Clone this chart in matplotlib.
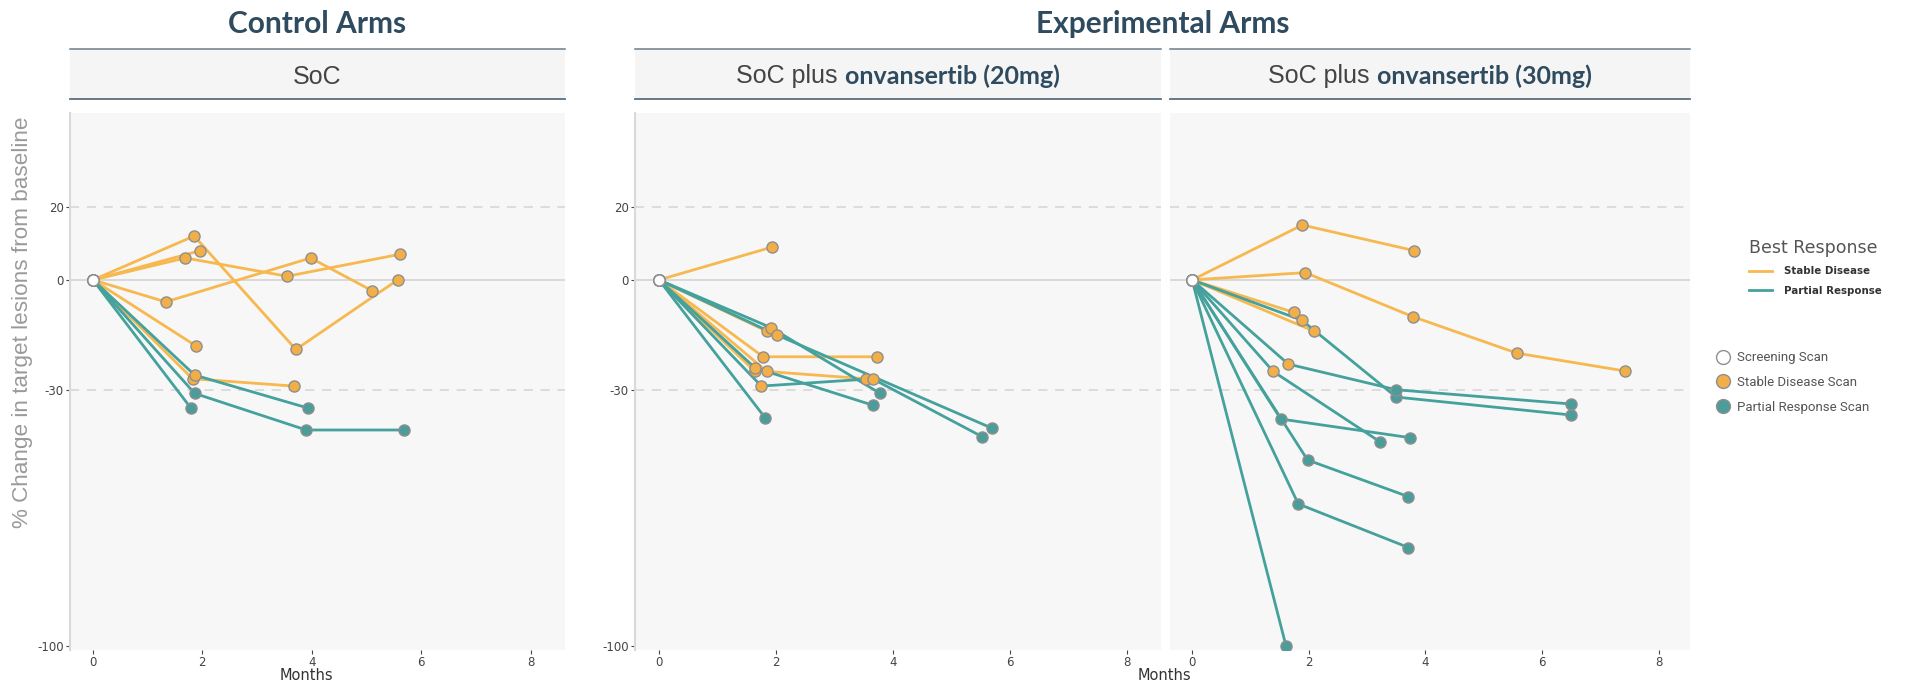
import matplotlib.pyplot as plt
from matplotlib.lines import Line2D

plt.rcParams["axes.unicode_minus"] = False

# ---- data (months, % change, scan type per point) ----
soc_months = [[0, 1.85, 3.71, 5.57], [0, 1.69, 3.55, 5.61], [0, 1.33, 3.98, 5.11],
              [0, 1.96], [0, 1.88], [0, 1.82, 3.67],
              [0, 1.86, 3.93], [0, 1.86, 3.90, 5.68], [0, 1.79]]
soc_change = [[0, 12, -19, 0], [0, 6, 1, 7], [0, -6, 6, -3],
              [0, 8], [0, -18], [0, -27, -29],
              [0, -26, -35], [0, -31, -41, -41], [0, -35]]
soc_scans = [["S", "SD", "SD", "SD"], ["S", "SD", "SD", "SD"], ["S", "SD", "SD", "SD"],
             ["S", "SD"], ["S", "SD"], ["S", "SD", "SD"],
             ["S", "SD", "PR"], ["S", "PR", "PR", "PR"], ["S", "PR"]]
soc_best = ["SD", "SD", "SD", "SD", "SD", "SD", "PR", "PR", "PR"]

mg20_months = [[0, 1.94], [0, 1.84], [0, 1.78, 3.73], [0, 1.84, 3.53], [0, 1.64],
               [0, 1.91, 3.78], [0, 2.01, 5.69], [0, 1.75, 3.65, 5.52], [0, 1.64, 3.65], [0, 1.82]]
mg20_change = [[0, 9], [0, -14], [0, -21, -21], [0, -25, -27], [0, -25],
               [0, -13, -31], [0, -15, -40.5], [0, -29, -27, -42.8], [0, -24, -34.2], [0, -37.8]]
mg20_scans = [["S", "SD"], ["S", "SD"], ["S", "SD", "SD"], ["S", "SD", "SD"], ["S", "SD"],
              ["S", "SD", "PR"], ["S", "SD", "PR"], ["S", "SD", "SD", "PR"], ["S", "SD", "PR"], ["S", "PR"]]
mg20_best = ["SD", "SD", "SD", "SD", "SD", "PR", "PR", "PR", "PR", "PR"]

mg30_months = [[0, 1.89, 3.81], [0, 1.94, 3.78, 5.57, 7.43], [0, 1.75], [0, 2.09],
               [0, 1.88, 3.50, 6.50], [0, 1.65, 3.50, 6.50], [0, 1.39, 3.22], [0, 1.52, 3.74],
               [0, 1.98, 3.71], [0, 1.82, 3.71], [0, 1.61]]
mg30_change = [[0, 15, 8], [0, 2, -10, -20, -24.9], [0, -8.9], [0, -14],
               [0, -11, -32, -36.9], [0, -23, -30, -33.9], [0, -25, -44.2], [0, -38, -43.1],
               [0, -49.2, -59.2], [0, -61.2, -73.1], [0, -100]]
mg30_scans = [["S", "SD", "SD"], ["S", "SD", "SD", "SD", "SD"], ["S", "SD"], ["S", "SD"],
              ["S", "SD", "PR", "PR"], ["S", "SD", "PR", "PR"], ["S", "SD", "PR"], ["S", "PR", "PR"],
              ["S", "PR", "PR"], ["S", "PR", "PR"], ["S", "PR"]]
mg30_best = ["SD", "SD", "SD", "SD", "PR", "PR", "PR", "PR", "PR", "PR", "PR"]

line_col = {"SD": "#f6b84f", "PR": "#44a19c"}
dot_col = {"S": "white", "SD": "#f2ae47", "PR": "#4a9d98"}
title_col = "#2f4b5f"

W, H = 1910, 686


def box(l, t, r, b):
    return [l / W, 1 - b / H, (r - l) / W, (b - t) / H]


fig = plt.figure(figsize=(W / 100, H / 100), dpi=100)

ax1 = fig.add_axes(box(70, 113, 565, 650))
ax2 = fig.add_axes(box(635, 113, 1161, 650))
ax3 = fig.add_axes(box(1170, 113, 1690, 650))
panels = [
    (ax1, soc_months, soc_change, soc_scans, soc_best, (-0.42, 8.63)),
    (ax2, mg20_months, mg20_change, mg20_scans, mg20_best, (-0.41, 8.58)),
    (ax3, mg30_months, mg30_change, mg30_scans, mg30_best, (-0.38, 8.54)),
]

for ax, months, change, scans, best, xl in panels:
    ax.set_facecolor("#f7f7f7")
    ax.axhline(0, color="#d6d6d6", lw=1.3, zorder=1)
    for yy in (20, -30):
        ax.axhline(yy, color="#d4d4d4", lw=1.1, ls=(0, (6, 5)), zorder=1)
    for xs, ys, b in zip(months, change, best):
        ax.plot(xs, ys, color=line_col[b], lw=2.0, zorder=2, solid_capstyle="round")
    for xs, ys, sc in zip(months, change, scans):
        for x, y, s in zip(xs, ys, sc):
            ax.plot(x, y, "o", ms=8, mfc=dot_col[s], mec="#8f8f8f", mew=1.0, zorder=3)
    ax.set_xlim(*xl)
    ax.set_ylim(-101.1, 45.6)
    ax.set_xticks([0, 2, 4, 6, 8])
    ax.set_yticks([20, 0, -30, -100])
    ax.tick_params(labelsize=8.5, colors="#444444", length=3, width=0.8, pad=1.5)
    for s in ("top", "right", "bottom"):
        ax.spines[s].set_visible(False)
    ax.spines["left"].set_color("#d9d9d9")
    ax.spines["left"].set_linewidth(1.5)

ax3.tick_params(axis="y", left=False, labelleft=False)
ax3.spines["left"].set_visible(False)

# facet strips
strips = []
for l, r in ((70, 565), (635, 1161), (1170, 1690)):
    s = fig.add_axes(box(l, 49, r, 99))
    s.set_facecolor("#f5f5f5")
    s.set_xticks([])
    s.set_yticks([])
    for k in ("left", "right"):
        s.spines[k].set_visible(False)
    s.spines["top"].set_color("#6b7e8c")
    s.spines["bottom"].set_color("#5a6e7e")
    s.spines["top"].set_linewidth(1.1)
    s.spines["bottom"].set_linewidth(1.3)
    strips.append(s)

strips[0].text(0.5, 0.45, "SoC", ha="center", va="center", fontsize=18,
               family="Liberation Sans", color="#444444")

renderer = fig.canvas.get_renderer()
for s, dose in ((strips[1], "onvansertib (20mg)"), (strips[2], "onvansertib (30mg)")):
    t1 = s.text(0.5, 0.45, "SoC plus", ha="left", va="center", fontsize=18,
                family="Liberation Sans", color="#444444")
    t2 = s.text(0.5, 0.45, dose, ha="left", va="center", fontsize=18,
                family="Lato", weight="bold", color=title_col)
    w1 = t1.get_window_extent(renderer).width
    w2 = t2.get_window_extent(renderer).width
    gap = 7
    aw = s.bbox.width
    x0 = 0.5 - (w1 + gap + w2) / 2 / aw
    t1.set_x(x0)
    t2.set_x(x0 + (w1 + gap) / aw)

fig.text(317 / W, 1 - 24 / H, "Control Arms", ha="center", va="center",
         fontsize=21.5, family="Lato", weight="bold", color=title_col)
fig.text(1163 / W, 1 - 24 / H, "Experimental Arms", ha="center", va="center",
         fontsize=21.5, family="Lato", weight="bold", color=title_col)

fig.text(23 / W, 1 - 322 / H, "% Change in target lesions from baseline", rotation=90,
         ha="center", va="center", fontsize=16.2, family="Liberation Sans", color="#9a9a9a")
fig.text(306 / W, 1 - 676 / H, "Months", ha="center", va="center", fontsize=10.5, color="#333333")
fig.text(1164 / W, 1 - 676 / H, "Months", ha="center", va="center", fontsize=10.5, color="#333333")

# legends
best_handles = [Line2D([], [], color=line_col["SD"], lw=2),
                Line2D([], [], color=line_col["PR"], lw=2)]
leg1 = fig.legend(best_handles, ["Stable Disease", "Partial Response"],
                  loc="upper left", bbox_to_anchor=(1742 / W, 1 - 232 / H),
                  frameon=False, title="Best Response", title_fontsize=12.5,
                  alignment="left", prop={"size": 7.4, "weight": "bold"},
                  handlelength=2.2, handletextpad=1.2, labelspacing=0.9, borderpad=0.2)
leg1.get_title().set_color("#555555")
for t in leg1.get_texts():
    t.set_color("#333333")

scan_handles = [Line2D([], [], ls="", marker="o", ms=10, mfc=dot_col[k], mec="#8f8f8f", mew=1)
                for k in ("S", "SD", "PR")]
fig.legend(scan_handles, ["Screening Scan", "Stable Disease Scan", "Partial Response Scan"],
           loc="upper left", bbox_to_anchor=(1707 / W, 1 - 342 / H), frameon=False,
           prop={"size": 9.5, "family": "Roboto"}, labelcolor="#555555", handlelength=1.0,
           handletextpad=0.6, labelspacing=0.9, borderpad=0.2)

fig.savefig("out.png", dpi=100)
